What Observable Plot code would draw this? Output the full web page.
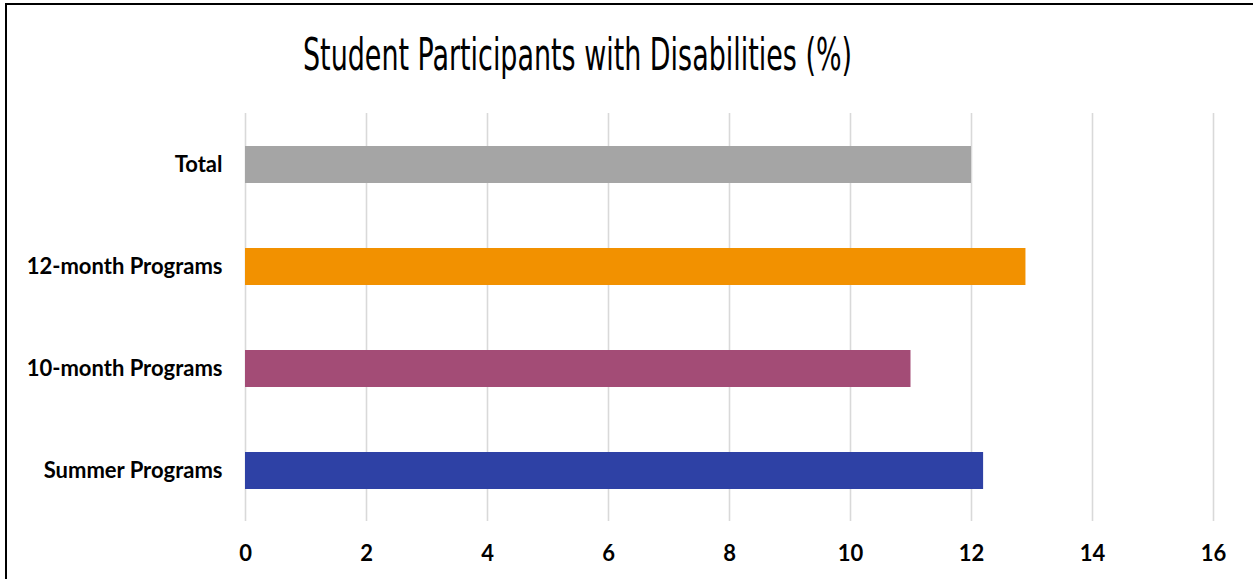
<!DOCTYPE html>
<html>
<head>
<meta charset="utf-8">
<script src="https://cdn.jsdelivr.net/npm/d3@7"></script>
<script src="https://cdn.jsdelivr.net/npm/@observablehq/plot@0.6"></script>
<style>
  html, body { margin: 0; padding: 0; background: #fff; width: 1253px; height: 579px; overflow: hidden; }
  #frame { position: absolute; left: 5px; top: 3px; width: 1400px; height: 700px; border-top: 2px solid #000; border-left: 2px solid #000; }
  #title { position: absolute; top: 33px; left: 0; white-space: nowrap; font-family: "Liberation Sans Narrow", "DejaVu Sans Condensed", sans-serif; font-size: 44px; color: #000; line-height: 1; transform-origin: 0 0; }
  #chart { position: absolute; left: 0; top: 0; }
</style>
</head>
<body>
<div id="frame"></div>
<div id="title">Student Participants with Disabilities (%)</div>
<div id="chart"></div>
<script>
const categories = ["Total", "12-month Programs", "10-month Programs", "Summer Programs"];
const values = [12.0, 12.9, 11.0, 12.2];
const colors = ["#a5a5a5", "#f29100", "#a34c76", "#2e41a5"];
const xTicks = [0, 2, 4, 6, 8, 10, 12, 14, 16];

const data = categories.map((c, i) => ({category: c, value: values[i]}));

const plot = Plot.plot({
  width: 1253,
  height: 579,
  marginLeft: 245,
  marginRight: 40,
  marginTop: 113,
  marginBottom: 58,
  style: {fontFamily: "Lato, 'Open Sans', sans-serif", fontWeight: "bold", fontSize: "22px", color: "#000", background: "transparent"},
  x: {domain: [0, 16], ticks: xTicks, label: null},
  y: {domain: categories, paddingInner: 0.64, paddingOuter: 0.32, label: null},
  color: {domain: categories, range: colors},
  marks: [
    Plot.gridX(xTicks, {stroke: "#d9d9d9", strokeOpacity: 1, strokeWidth: 1.6}),
    Plot.barX(data, {x: "value", y: "category", fill: "category"}),
    Plot.axisX(xTicks, {tickSize: 0, tickPadding: 24, fontSize: 22, fontWeight: "bold", tickFormat: d => String(d)}),
    Plot.axisY({tickSize: 0, tickPadding: 23, fontSize: 22, fontWeight: "bold"})
  ]
});
document.getElementById("chart").appendChild(plot);

// fit the title to its reference span (x 303 to 852)
const t = document.getElementById("title");
const w = t.getBoundingClientRect().width;
const target = 549;
const s = target / w;
t.style.left = "303px";
t.style.transform = `scaleX(${s})`;
</script>
</body>
</html>
